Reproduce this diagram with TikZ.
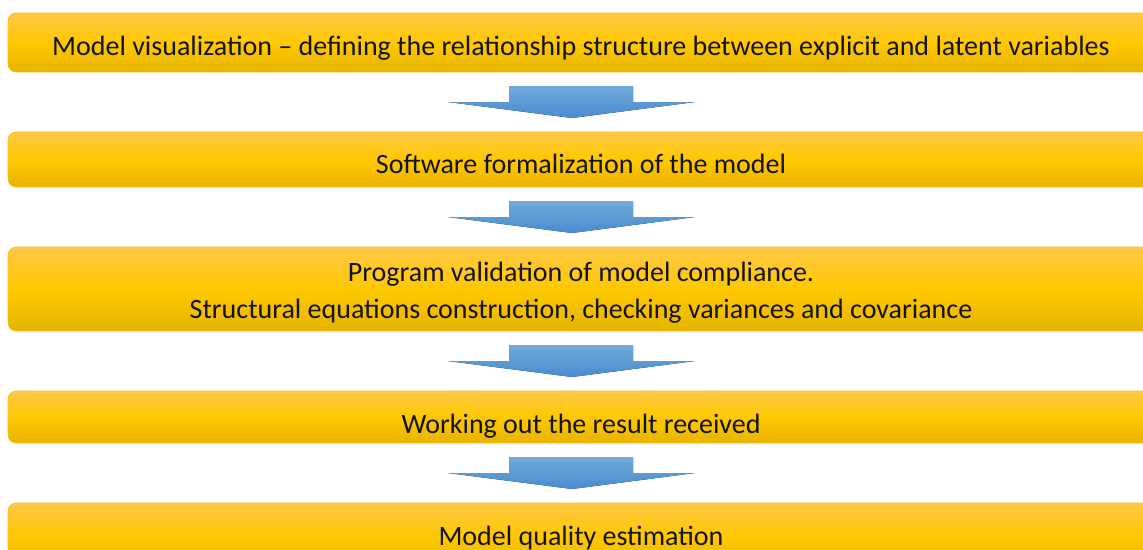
\documentclass[tikz,border=0pt]{standalone}
\usepackage{fontspec}
\setmainfont{Carlito}
\definecolor{boxtop}{RGB}{255,200,72}
\definecolor{boxmid}{RGB}{255,200,0}
\definecolor{boxbot}{RGB}{230,180,0}
\definecolor{boxline}{RGB}{250,190,20}
\definecolor{arrtop}{RGB}{114,168,220}
\definecolor{arrbot}{RGB}{72,140,206}
\definecolor{txt}{RGB}{20,20,20}
\begin{document}
\begin{tikzpicture}[x=1pt,y=-1pt,
  stagebox/.style={rectangle, rounded corners=8pt, draw=boxline, line width=0.6pt,
    top color=boxtop, bottom color=boxbot, middle color=boxmid,
    minimum width=1146pt, inner sep=0pt, text=txt, align=center,
    font=\fontsize{28pt}{37pt}\selectfont},
  pics/blockarrow/.style={code={
    \fill[top color=arrtop, bottom color=arrbot]
      (-63,-16) -- (61,-16) -- (61,0) -- (123,0) -- (0,16) -- (-124,0) -- (-63,0) -- cycle;
  }}]
\useasboundingbox (0,0) rectangle (1143,549);
\node[stagebox, text height=42pt, text depth=17pt] (b1) at (581,42.5) {Model visualization -- defining the relationship structure between explicit and latent variables};
\node[stagebox, text height=41pt, text depth=14pt] (b2) at (581,159.5) {Software formalization of the model};
\node[stagebox, text height=71pt, text depth=13pt] (b3) at (581,289) {Program validation of model compliance.\\Structural equations construction, checking variances and covariance};
\node[stagebox, text height=42pt, text depth=10pt] (b4) at (581,417) {Working out the result received};
\node[stagebox, text height=42pt, text depth=24pt] (b5) at (581,536) {Model quality estimation};
\coordinate (a1) at (572,102);
\coordinate (a2) at (572,217);
\coordinate (a3) at (572,361);
\coordinate (a4) at (572,473);
\pic at (a1) {blockarrow};
\pic at (a2) {blockarrow};
\pic at (a3) {blockarrow};
\pic at (a4) {blockarrow};
\end{tikzpicture}
\end{document}
